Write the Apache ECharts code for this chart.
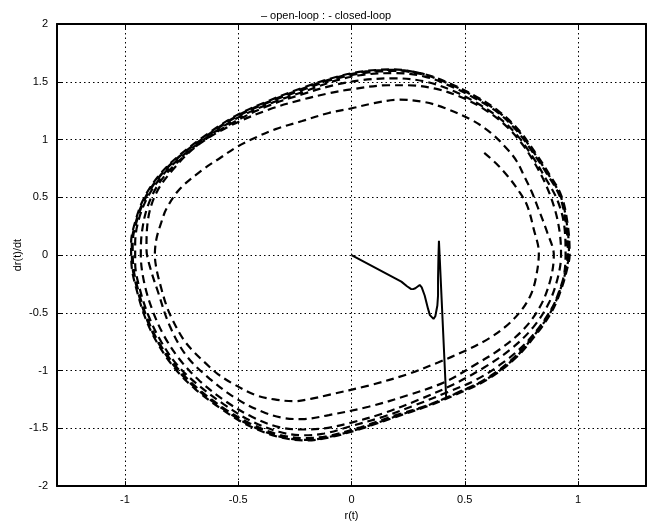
<!DOCTYPE html>
<html>
<head>
<meta charset="utf-8">
<script src="https://cdn.jsdelivr.net/npm/echarts@6/dist/echarts.min.js"></script>
<style>
  html, body { margin: 0; padding: 0; background: #fff; }
  #chart { width: 652px; height: 526px; }
</style>
</head>
<body>
<div id="chart"></div>
<script>
// Phase-plane trajectory of r(t): open-loop spiral out to the limit cycle (dashed)
// and the closed-loop path back to the origin (solid).

const xTicks = [-1, -0.5, 0, 0.5, 1];
const yTicks = [-2, -1.5, -1, -0.5, 0, 0.5, 1, 1.5, 2];

// open-loop, one array per revolution [r, dr/dt]
const openTurn1 = [[0.586,0.885],[0.64,0.79],[0.689,0.684],[0.74,0.55],[0.776,0.425],[0.805,0.22],[0.827,0.02],[0.813,-0.207],[0.79,-0.35],[0.745,-0.49],[0.68,-0.62],[0.60,-0.73],[0.50,-0.83],[0.382,-0.93],[0.25,-1.03],[0.075,-1.13],[-0.1,-1.21],[-0.18,-1.245],[-0.254,-1.265],[-0.34,-1.25],[-0.422,-1.213],[-0.525,-1.112],[-0.59,-1.03],[-0.642,-0.94],[-0.70,-0.83],[-0.744,-0.724],[-0.79,-0.56],[-0.817,-0.437],[-0.845,-0.25],[-0.861,-0.12],[-0.868,0.0],[-0.861,0.14],[-0.84,0.28],[-0.817,0.40],[-0.759,0.57],[-0.656,0.74],[-0.58,0.84],[-0.503,0.94],[-0.42,1.02],[-0.335,1.09],[-0.218,1.16],[-0.1,1.23],[0.0,1.27],[0.1,1.315],[0.213,1.345]];
const openTurn2 = [[0.32,1.325],[0.411,1.273],[0.528,1.172],[0.615,1.058],[0.689,0.914],[0.73,0.81],[0.762,0.684],[0.795,0.55],[0.82,0.425],[0.864,0.196],[0.893,0.0],[0.879,-0.207],[0.835,-0.437],[0.762,-0.638],[0.659,-0.81],[0.542,-0.954],[0.411,-1.10],[0.25,-1.213],[0.075,-1.313],[-0.1,-1.385],[-0.218,-1.42],[-0.30,-1.41],[-0.393,-1.357],[-0.51,-1.241],[-0.627,-1.069],[-0.73,-0.868],[-0.803,-0.61],[-0.854,-0.32],[-0.89,-0.1],[-0.905,0.05],[-0.898,0.31],[-0.861,0.54],[-0.788,0.74],[-0.686,0.94],[-0.54,1.115],[-0.364,1.26],[-0.218,1.345],[-0.1,1.4],[0.0,1.435],[0.162,1.47],[0.25,1.47]];
const openTurn3 = [[0.37,1.44],[0.48,1.37],[0.58,1.27],[0.67,1.14],[0.75,0.97],[0.81,0.79],[0.86,0.60],[0.90,0.38],[0.92,0.18],[0.925,0.0],[0.91,-0.2],[0.87,-0.42],[0.80,-0.63],[0.70,-0.82],[0.58,-0.98],[0.45,-1.12],[0.30,-1.25],[0.14,-1.37],[0.0,-1.45],[-0.12,-1.50],[-0.22,-1.51],[-0.32,-1.49],[-0.44,-1.40],[-0.56,-1.26],[-0.67,-1.09],[-0.76,-0.90],[-0.83,-0.69],[-0.88,-0.47],[-0.915,-0.24],[-0.93,0.0],[-0.925,0.2],[-0.90,0.42],[-0.85,0.62],[-0.77,0.80],[-0.66,0.98],[-0.52,1.15],[-0.37,1.29],[-0.22,1.39],[-0.08,1.47],[0.05,1.515],[0.19,1.53]];
const openTurn4 = [[0.33,1.50],[0.45,1.42],[0.55,1.32],[0.65,1.19],[0.73,1.04],[0.80,0.85],[0.855,0.67],[0.91,0.47],[0.94,0.24],[0.945,0.0],[0.935,-0.2],[0.90,-0.40],[0.845,-0.58],[0.77,-0.76],[0.67,-0.93],[0.55,-1.08],[0.42,-1.19],[0.28,-1.30],[0.14,-1.40],[0.0,-1.48],[-0.12,-1.545],[-0.21,-1.56],[-0.32,-1.53],[-0.45,-1.43],[-0.565,-1.29],[-0.68,-1.12],[-0.77,-0.95],[-0.84,-0.75],[-0.895,-0.53],[-0.935,-0.29],[-0.955,-0.07],[-0.955,0.1],[-0.94,0.3],[-0.90,0.5],[-0.83,0.70],[-0.745,0.86],[-0.63,1.03],[-0.50,1.19],[-0.355,1.315],[-0.21,1.415],[-0.07,1.51],[0.05,1.56],[0.19,1.575]];
const openTurn5 = [[0.323,1.545],[0.44,1.46],[0.542,1.36],[0.645,1.235],[0.73,1.075],[0.805,0.875],[0.862,0.705],[0.92,0.505],[0.948,0.25],[0.955,0.0],[0.948,-0.1],[0.92,-0.295],[0.875,-0.5],[0.80,-0.70],[0.71,-0.90],[0.595,-1.07],[0.48,-1.18],[0.335,-1.30],[0.19,-1.39],[0.04,-1.49],[-0.1,-1.565],[-0.2,-1.585],[-0.32,-1.555],[-0.45,-1.455],[-0.568,-1.32],[-0.684,-1.145],[-0.77,-0.975],[-0.848,-0.765],[-0.902,-0.545],[-0.942,-0.30],[-0.964,-0.08],[-0.966,0.1],[-0.947,0.3],[-0.907,0.5],[-0.838,0.70],[-0.757,0.855],[-0.64,1.03],[-0.508,1.195],[-0.362,1.325],[-0.216,1.43],[-0.08,1.52],[0.05,1.575],[0.19,1.595]];
const openTurn6 = [[0.323,1.56],[0.44,1.474],[0.542,1.373],[0.645,1.244],[0.732,1.086],[0.806,0.885],[0.864,0.713],[0.923,0.511],[0.952,0.253],[0.96,0.0],[0.952,-0.092],[0.923,-0.293],[0.879,-0.494],[0.806,-0.696],[0.718,-0.897],[0.60,-1.07],[0.484,-1.18],[0.338,-1.30],[0.19,-1.40],[0.04,-1.50],[-0.1,-1.575],[-0.2,-1.60],[-0.32,-1.57],[-0.452,-1.47],[-0.569,-1.33],[-0.686,-1.155],[-0.773,-0.983],[-0.85,-0.77],[-0.905,-0.55],[-0.945,-0.30],[-0.968,-0.08],[-0.97,0.1],[-0.95,0.3],[-0.91,0.5],[-0.84,0.70],[-0.759,0.856],[-0.642,1.03],[-0.51,1.20],[-0.364,1.33],[-0.218,1.44],[-0.08,1.53],[0.05,1.585],[0.19,1.603]];
const openTurn7 = [[0.323,1.565],[0.44,1.48],[0.545,1.378],[0.648,1.248],[0.735,1.09],[0.81,0.89],[0.868,0.716],[0.926,0.515],[0.955,0.256],[0.963,0.0],[0.955,-0.095],[0.926,-0.296],[0.882,-0.498],[0.81,-0.7],[0.72,-0.9],[0.602,-1.075],[0.486,-1.186],[0.34,-1.305],[0.19,-1.405],[0.04,-1.505],[-0.1,-1.58],[-0.2,-1.605],[-0.32,-1.575],[-0.455,-1.475],[-0.572,-1.335],[-0.69,-1.16],[-0.777,-0.988],[-0.853,-0.775],[-0.908,-0.555],[-0.948,-0.305],[-0.971,-0.085],[-0.973,0.1],[-0.953,0.3],[-0.913,0.505],[-0.843,0.705],[-0.762,0.86],[-0.645,1.035],[-0.512,1.205],[-0.366,1.335],[-0.22,1.445],[-0.08,1.535],[0.05,1.59],[0.19,1.607],[0.323,1.565]];

// closed-loop path from the limit cycle to the origin
const closedLoop = [[0.418,-1.24],[0.386,0.123],[0.384,0.0],[0.382,-0.2],[0.382,-0.35],[0.379,-0.437],[0.37,-0.53],[0.362,-0.553],[0.355,-0.552],[0.346,-0.52],[0.338,-0.466],[0.323,-0.35],[0.31,-0.28],[0.301,-0.259],[0.293,-0.27],[0.282,-0.287],[0.272,-0.295],[0.262,-0.293],[0.245,-0.27],[0.22,-0.23],[0.0,0.0]];

const openLoop = [].concat(openTurn1, openTurn2, openTurn3, openTurn4, openTurn5, openTurn6, openTurn7);

const FONT = 'Liberation Sans, Arial, Helvetica, sans-serif';
const txt = { color: '#000', fontSize: 11, fontFamily: FONT };
const border = { show: true, onZero: false, lineStyle: { color: '#000', width: 2 } };
const grid = { show: true, lineStyle: { color: '#000', width: 1, type: [1.5, 3] } };

const chart = echarts.init(document.getElementById('chart'), null, { renderer: 'canvas' });
chart.setOption({
  animation: false,
  backgroundColor: '#fff',
  title: {
    text: '\u2013 open-loop : - closed-loop',
    left: 'center',
    top: 5,
    textStyle: { fontSize: 11, fontWeight: 'normal', color: '#000', fontFamily: FONT }
  },
  grid: { left: 57, right: 6, top: 24, bottom: 37 },
  xAxis: [{
    type: 'value', min: -1.3, max: 1.3, position: 'bottom',
    axisLine: border,
    axisTick: { show: true, inside: true, length: 5, customValues: xTicks, lineStyle: { color: '#000' } },
    axisLabel: Object.assign({ customValues: xTicks, margin: 8 }, txt),
    splitLine: grid,
    name: 'r(t)', nameLocation: 'middle', nameGap: 22, nameTextStyle: txt
  }, {
    type: 'value', min: -1.3, max: 1.3, position: 'top',
    axisLine: border,
    axisTick: { show: true, inside: true, length: 5, customValues: xTicks, lineStyle: { color: '#000' } },
    axisLabel: { show: false },
    splitLine: { show: false }
  }],
  yAxis: [{
    type: 'value', min: yTicks[0], max: yTicks[yTicks.length - 1], interval: 0.5, position: 'left',
    axisLine: border,
    axisTick: { show: true, inside: true, length: 5, lineStyle: { color: '#000' } },
    axisLabel: Object.assign({ margin: 9 }, txt),
    splitLine: grid,
    name: 'dr(t)/dt', nameLocation: 'middle', nameGap: 34, nameMoveOverlap: false, nameTextStyle: txt
  }, {
    type: 'value', min: yTicks[0], max: yTicks[yTicks.length - 1], interval: 0.5, position: 'right',
    axisLine: border,
    axisTick: { show: true, inside: true, length: 5, lineStyle: { color: '#000' } },
    axisLabel: { show: false },
    splitLine: { show: false }
  }],
  series: [{
    name: 'open-loop',
    type: 'line',
    data: openLoop,
    showSymbol: false,
    smooth: 0.35,
    lineStyle: { color: '#000', width: 2.2, type: [8, 5] },
    z: 3
  }, {
    name: 'closed-loop',
    type: 'line',
    data: closedLoop,
    showSymbol: false,
    lineStyle: { color: '#000', width: 2 },
    z: 4
  }]
});
</script>
</body>
</html>
